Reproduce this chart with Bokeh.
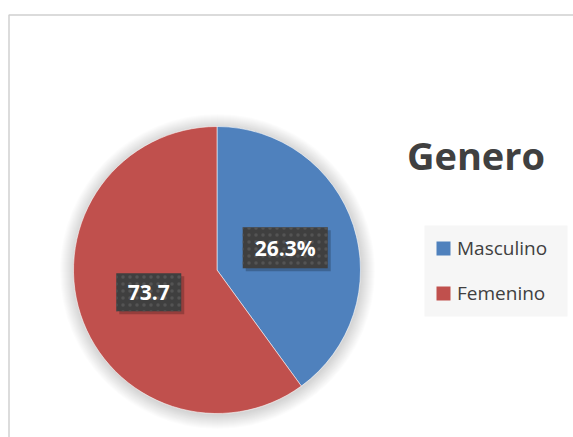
import numpy as np
from bokeh.plotting import figure
from bokeh.models import Range1d, ColumnDataSource
from bokeh.core.properties import value
from bokeh.embed import file_html
from bokeh.resources import INLINE

# ---- data ----
title_text = "Genero"
categories = ["Masculino", "Femenino"]
shares = [40.0, 60.0]            # slice sizes as drawn in the picture
label_texts = ["26.3%", "73.7"]  # data labels as printed
colors = ["#4F81BD", "#C0504D"]

# ---- layout ----
W, H = 573, 437
def Y(py):
    return H - py

cx, cy, r = 216.5, Y(269.5), 143.5

p = figure(width=W, height=H, x_range=Range1d(0, W), y_range=Range1d(0, H),
           x_axis_type=None, y_axis_type=None, toolbar_location=None,
           output_backend="svg", min_border=0, outline_line_color=None,
           background_fill_color="white", border_fill_color="white")
p.grid.visible = False

# chart frame
p.quad(left=8.5, right=W + 20, top=Y(14.5), bottom=-20, fill_color=None,
       line_color="#d0d0d0", line_width=1.5)

# soft shadow around pie
for i in range(14, 0, -1):
    p.circle(x=cx + 0.5, y=cy - 1.5, radius=r + i, fill_color="#000000",
             fill_alpha=0.01, line_color=None)

# pie slices
frac = np.array(shares) / np.sum(shares)
cum = np.cumsum(frac)
prev = np.concatenate([[0.0], cum[:-1]])
start = np.pi / 2 - 2 * np.pi * prev
end = np.pi / 2 - 2 * np.pi * cum
src = ColumnDataSource(dict(start=start, end=end, color=colors, cat=categories))
p.wedge(x=cx, y=cy, radius=r, start_angle="start", end_angle="end",
        direction="clock", fill_color="color", line_color="white",
        line_width=0.8, line_alpha=0.7, source=src)

# data labels at half radius along mid angle
mid = np.pi / 2 - 2 * np.pi * (prev + frac / 2)
lx = cx + 0.5 * r * np.cos(mid)
ly = cy + 0.5 * r * np.sin(mid)
box_w = [85, 65]
box_h = [41, 38]
p.rect(x=lx + 3, y=ly - 3, width=box_w, height=box_h, fill_color="#000000",
       fill_alpha=0.22, line_color=None)
p.rect(x=lx, y=ly, width=box_w, height=box_h, fill_color="#3f3f3f",
       line_color=None, hatch_pattern="dot", hatch_color="#545454",
       hatch_scale=7, hatch_weight=1.5)
p.text(x=lx, y=ly, text=label_texts, text_align="center",
       text_baseline="middle", text_color="white",
       text_font=value("Open Sans"), text_font_style="bold",
       text_font_size="21px")

# title
p.text(x=[475.5], y=[Y(154)], text=[title_text], text_align="center",
       text_baseline="middle", text_color="#404040",
       text_font=value("Open Sans"), text_font_style="bold",
       text_font_size="38px")

# legend
p.quad(left=424, right=567, top=Y(225), bottom=Y(316),
       fill_color="#f6f6f6", line_color=None)
leg_y = [Y(248), Y(293)]
p.rect(x=443, y=leg_y, width=14, height=14, fill_color=colors,
       line_color=None)
p.text(x=456.5, y=[v + 1 for v in leg_y], text=categories, text_align="left",
       text_baseline="middle", text_color="#404040",
       text_font=value("Open Sans"), text_font_size="19px")

open("out.html", "w").write(file_html(p, INLINE))
